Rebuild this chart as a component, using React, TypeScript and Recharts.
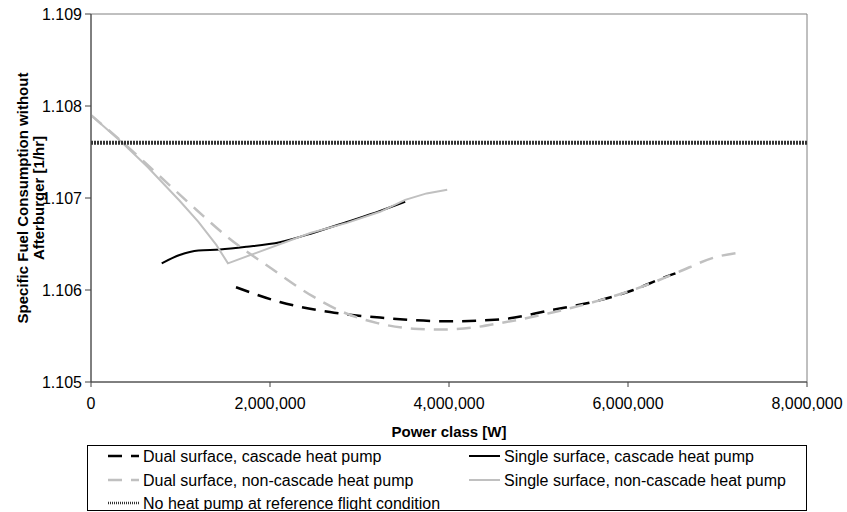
import React from 'react';
import { LineChart, Line, XAxis, YAxis, ReferenceArea, Label } from 'recharts';

// power class [W] and specific fuel consumption [1/hr]
const dualCascadePower = [1620000, 2110000, 2670000, 3230000, 3980000, 4570000, 5130000, 5690000, 6060000, 6390000, 6530000];
const dualCascadeSfc = [1.10603, 1.10587, 1.10576, 1.1057, 1.10566, 1.10568, 1.10578, 1.10589, 1.106, 1.10613, 1.10618];

const singleCascadePower = [790000, 990000, 1200000, 1440000, 1740000, 2110000, 2480000, 2860000, 3230000, 3510000];
const singleCascadeSfc = [1.10629, 1.10638, 1.10643, 1.10644, 1.10647, 1.10652, 1.10662, 1.10674, 1.10686, 1.10696];

const dualNonCascadePower = [0, 360000, 720000, 1180000, 1520000, 2020000, 2480000, 2840000, 3200000, 3600000, 3900000, 4250000, 4570000, 5130000, 5690000, 6250000, 6550000, 6990000, 7280000];
const dualNonCascadeSfc = [1.1079, 1.1076, 1.10728, 1.10687, 1.10658, 1.10623, 1.10593, 1.10575, 1.10564, 1.10558, 1.10557, 1.10559, 1.10564, 1.10575, 1.10589, 1.10607, 1.10619, 1.10636, 1.10641];

const singleNonCascadePower = [0, 350000, 630000, 990000, 1200000, 1400000, 1530000, 2450000, 2860000, 3230000, 3510000, 3750000, 3980000];
const singleNonCascadeSfc = [1.1079, 1.1076, 1.10734, 1.10697, 1.10674, 1.10649, 1.10629, 1.10662, 1.10673, 1.10685, 1.10698, 1.10705, 1.10709];

const referencePower = [0, 8000000];
const referenceSfc = [1.1076, 1.1076];

const xTicks = [0, 2000000, 4000000, 6000000, 8000000];
const yTicks = [1.105, 1.106, 1.107, 1.108, 1.109];

const zip = (xs: number[], ys: number[]) => xs.map((x, i) => ({ x, y: ys[i] }));

const FONT = "'Liberation Sans', Arial, sans-serif";
const LIGHT = '#c0c0c0';
const DASH = '14 9';

const series = [
  { key: 'dc', name: 'Dual surface, cascade heat pump', data: zip(dualCascadePower, dualCascadeSfc), color: '#000', width: 2.5, dash: DASH, type: 'monotone' },
  { key: 'sc', name: 'Single surface, cascade heat pump', data: zip(singleCascadePower, singleCascadeSfc), color: '#000', width: 2, dash: undefined, type: 'monotone' },
  { key: 'dn', name: 'Dual surface, non-cascade heat pump', data: zip(dualNonCascadePower, dualNonCascadeSfc), color: LIGHT, width: 2.5, dash: DASH, type: 'monotone' },
  { key: 'sn', name: 'Single surface, non-cascade heat pump', data: zip(singleNonCascadePower, singleNonCascadeSfc), color: LIGHT, width: 2, dash: undefined, type: 'linear' },
  { key: 'ref', name: 'No heat pump at reference flight condition', data: zip(referencePower, referenceSfc), color: '#333', width: 4, dash: '2 1', type: 'linear' },
];

// legend slots: [series key, column, row]
const legendSlots: [string, number, number][] = [
  ['dc', 0, 0], ['sc', 1, 0], ['dn', 0, 1], ['sn', 1, 1], ['ref', 0, 2],
];

const YTitle = ({ viewBox }: any) => {
  const cy = viewBox.y + viewBox.height / 2;
  return (
    <g fontFamily={FONT} fontWeight="bold" fontSize={15} fill="#000">
      <text transform={`translate(22, ${cy}) rotate(-90)`} textAnchor="middle" dominantBaseline="central">
        Specific Fuel Consumption without
      </text>
      <text transform={`translate(38, ${cy}) rotate(-90)`} textAnchor="middle" dominantBaseline="central">
        Afterburger [1/hr]
      </text>
    </g>
  );
};

const XTitle = ({ viewBox }: any) => (
  <text
    x={viewBox.x + viewBox.width / 2}
    y={viewBox.y + 49}
    textAnchor="middle"
    dominantBaseline="central"
    fontFamily={FONT}
    fontWeight="bold"
    fontSize={15}
    fill="#000"
  >
    Power class [W]
  </text>
);

const LegendBox = () => {
  const colSym = [20, 381];
  const rowY = [10, 34, 57];
  return (
    <div style={{ position: 'absolute', left: 87, top: 445, width: 718, height: 64, border: '1px solid #000', background: '#fff' }}>
      <svg width={718} height={64} style={{ display: 'block' }}>
        {legendSlots.map(([key, col, row]) => {
          const s = series.find((d) => d.key === key)!;
          const x0 = colSym[col];
          const y = rowY[row];
          return (
            <g key={key}>
              <line
                x1={x0}
                x2={x0 + 31}
                y1={y}
                y2={y}
                stroke={s.color}
                strokeWidth={key === 'ref' ? 2.5 : s.width}
                strokeDasharray={key === 'ref' ? '1 1' : s.dash}
              />
              <text x={x0 + 35} y={y} dominantBaseline="central" fontFamily={FONT} fontSize={16} fill="#000">
                {s.name}
              </text>
            </g>
          );
        })}
      </svg>
    </div>
  );
};

export default function App() {
  return (
    <div style={{ position: 'absolute', left: 0, top: 0, width: 847, height: 512, background: '#fff' }}>
      <LineChart width={847} height={512} margin={{ top: 14, right: 40, bottom: 70, left: 0 }}>
        <XAxis
          type="number"
          dataKey="x"
          domain={[0, 8000000]}
          ticks={xTicks}
          tickFormatter={(v: number) => v.toLocaleString('en-US')}
          height={60}
          tickSize={5}
          tickMargin={11}
          stroke="#404040"
          tick={{ fill: '#000', fontSize: 16, fontFamily: FONT }}
          allowDataOverflow
        >
          <Label content={XTitle} />
        </XAxis>
        <YAxis
          type="number"
          dataKey="y"
          domain={[1.105, 1.109]}
          ticks={yTicks}
          tickFormatter={(v: number) => v.toFixed(3)}
          width={91}
          tickSize={6}
          tickMargin={3}
          stroke="#404040"
          tick={{ fill: '#000', fontSize: 16, fontFamily: FONT }}
          allowDataOverflow
        >
          <Label content={YTitle} />
        </YAxis>
        <ReferenceArea x1={0} x2={8000000} y1={1.105} y2={1.109} fill="none" stroke="#808080" strokeWidth={1} />
        {series.map((s) => (
          <Line
            key={s.key}
            data={s.data}
            dataKey="y"
            name={s.name}
            type={s.type as any}
            stroke={s.color}
            strokeWidth={s.width}
            strokeDasharray={s.dash}
            dot={false}
            activeDot={false}
            isAnimationActive={false}
          />
        ))}
      </LineChart>
      <LegendBox />
    </div>
  );
}
